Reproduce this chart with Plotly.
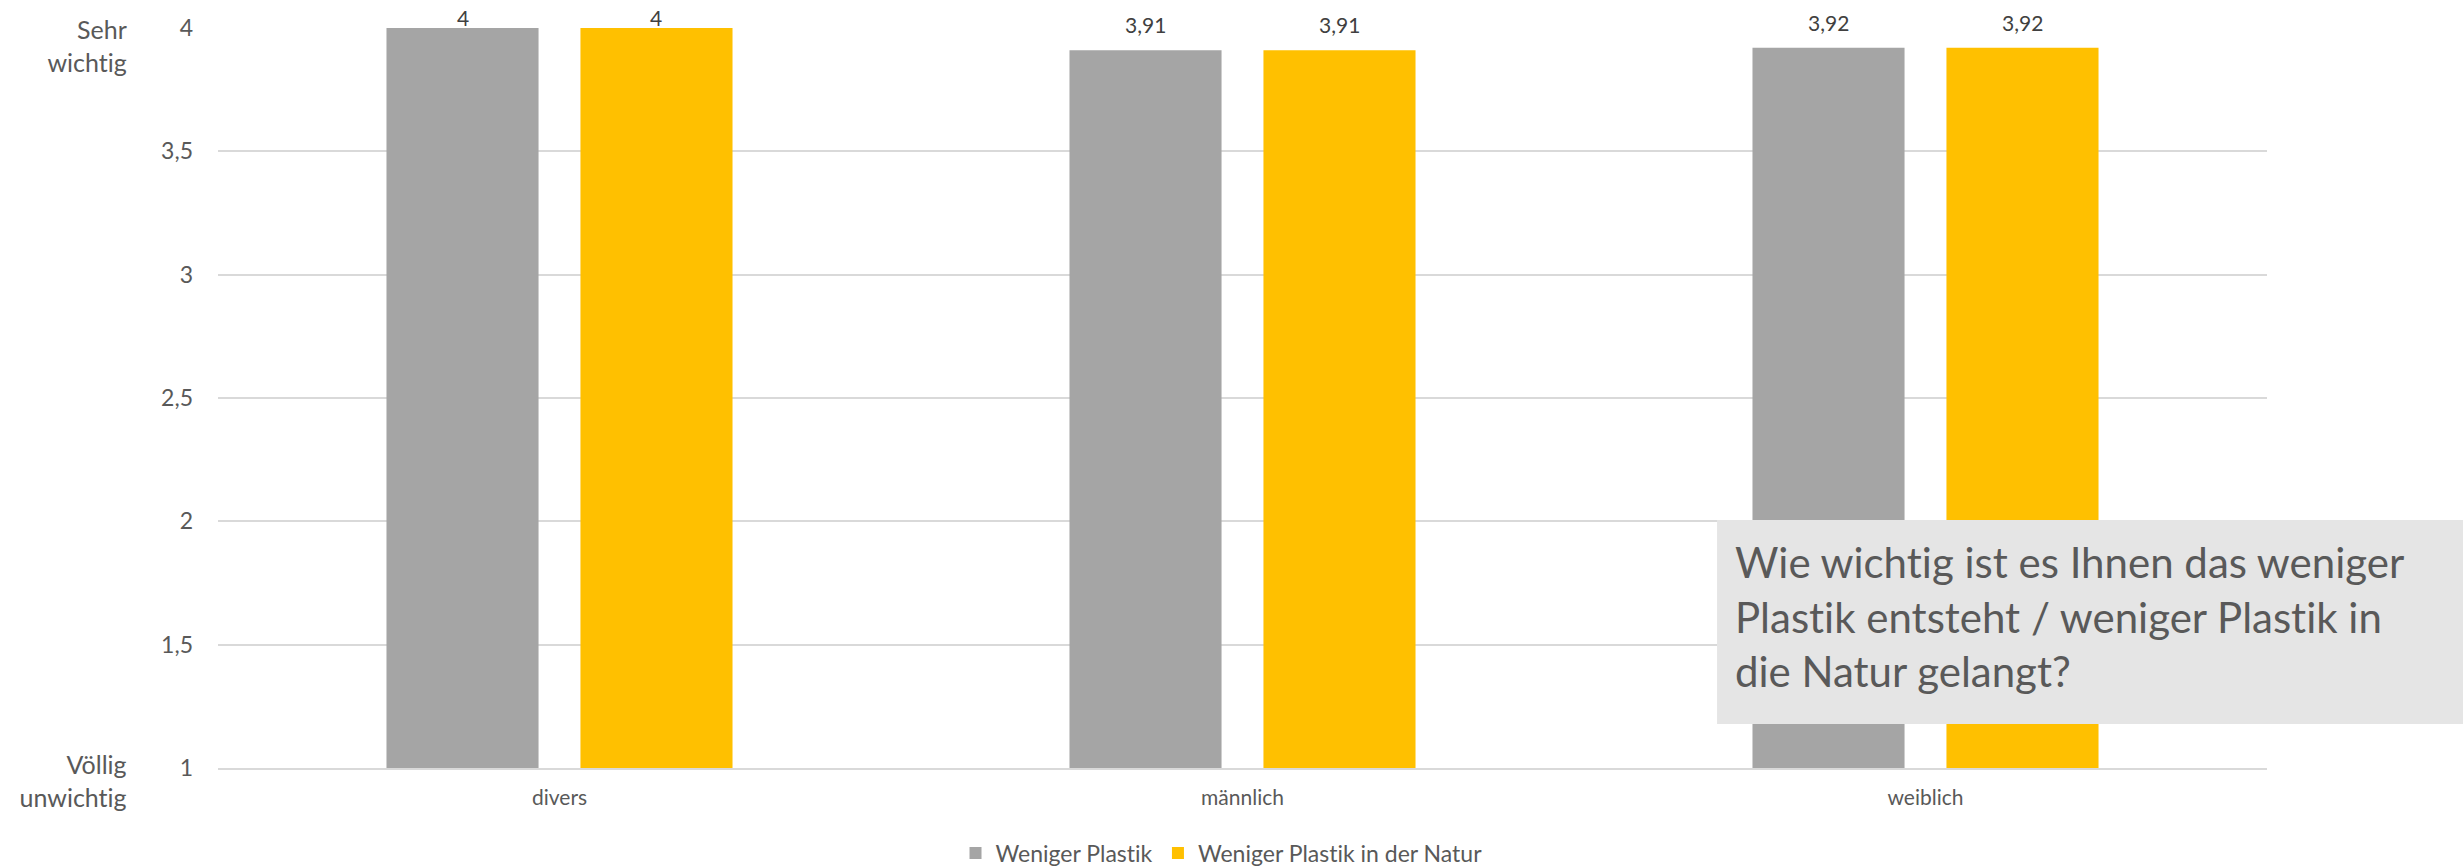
import plotly.graph_objects as go

categories = ["divers", "männlich", "weiblich"]
series_names = ["Weniger Plastik", "Weniger Plastik in der Natur"]
weniger_plastik = [4, 3.91, 3.92]
weniger_plastik_natur = [4, 3.91, 3.92]
y_ticks = [1, 1.5, 2, 2.5, 3, 3.5, 4]
colors = ["#A5A5A5", "#FFC000"]
question = "Wie wichtig ist es Ihnen das weniger<br>Plastik entsteht / weniger Plastik in<br>die Natur gelangt?"

FONT = "Lato"
TXT = "#595959"

W, H = 2463, 866
ML, MR, MT, MB = 218, 196, 28, 98
BARGAP = 0.432
YMIN, YMAX = 1, 4


def fmt(v):
    return ("%g" % v).replace(".", ",")


fig = go.Figure()
all_series = [weniger_plastik, weniger_plastik_natur]
for name, vals, col in zip(series_names, all_series, colors):
    fig.add_trace(go.Bar(x=categories, y=vals, name=name,
                         marker=dict(color=col, line=dict(width=0))))

fig.update_layout(
    width=W, height=H,
    margin=dict(l=ML, r=MR, t=MT, b=MB, autoexpand=False),
    paper_bgcolor="white", plot_bgcolor="white",
    barmode="group", bargap=BARGAP, bargroupgap=0.216,
    separators=",.",
    font=dict(family=FONT, color=TXT),
    showlegend=True,
    legend=dict(orientation="h", x=0.490, xanchor="center", y=-0.115, yanchor="middle",
                font=dict(family=FONT, size=23, color=TXT), itemwidth=30,
                bgcolor="rgba(0,0,0,0)"),
    xaxis=dict(showgrid=False, showline=True, linecolor="#D9D9D9", linewidth=2,
               tickfont=dict(family=FONT, size=21, color=TXT), ticks="",
               ticklabelstandoff=10, zeroline=False),
    yaxis=dict(range=[YMIN, YMAX], tickvals=y_ticks, showgrid=True, gridcolor="#D9D9D9",
               gridwidth=2, zeroline=False, showline=False, ticks="",
               tickfont=dict(family=FONT, size=23, color=TXT), ticklabelstandoff=24),
)

# Data labels (clamped at the top like the original)
plot_w = W - ML - MR
plot_h = H - MT - MB
slot_px = (1 - BARGAP) / 2 * plot_w / len(categories)
for i, vals in enumerate(all_series):
    for cat, v in zip(categories, vals):
        bar_top = MT + (YMAX - v) / (YMAX - YMIN) * plot_h
        baseline = max(bar_top - 18, 25)
        fig.add_annotation(x=cat, y=v, xref="x", yref="y", xanchor="center", yanchor="bottom",
                           xshift=(i - 0.5) * slot_px, yshift=bar_top - baseline - 7,
                           text=fmt(v), showarrow=False,
                           font=dict(family=FONT, size=21, color="#404040"))

# Side labels
fig.add_annotation(x=-0.0434, xref="paper", xanchor="right", y=4, yref="y", yanchor="middle",
                   yshift=-17, text="Sehr<br>wichtig", showarrow=False, align="right",
                   font=dict(family=FONT, size=25, color=TXT))
fig.add_annotation(x=-0.0434, xref="paper", xanchor="right", y=1, yref="y", yanchor="middle",
                   yshift=-12, text="Völlig<br>unwichtig", showarrow=False, align="right",
                   font=dict(family=FONT, size=25, color=TXT))

# Question box
fig.add_shape(type="rect", xref="paper", yref="paper", x0=0.7316, x1=1.0957, y0=0.0595, y1=0.3351,
              fillcolor="#E5E5E5", line=dict(width=0), layer="above")
fig.add_annotation(x=0.7395, xref="paper", xanchor="left", y=0.2054, yref="paper", yanchor="middle",
                   text=question, showarrow=False, align="left",
                   font=dict(family=FONT, size=42, color=TXT))

post = ("document.body.style.margin='0';document.body.style.overflow='hidden';"
        "var s=document.createElement('style');"
        "s.textContent='text{font-variant-ligatures:none !important;}';"
        "document.head.appendChild(s);")
fig.write_html("out.html", post_script=post, config={"displayModeBar": False})
